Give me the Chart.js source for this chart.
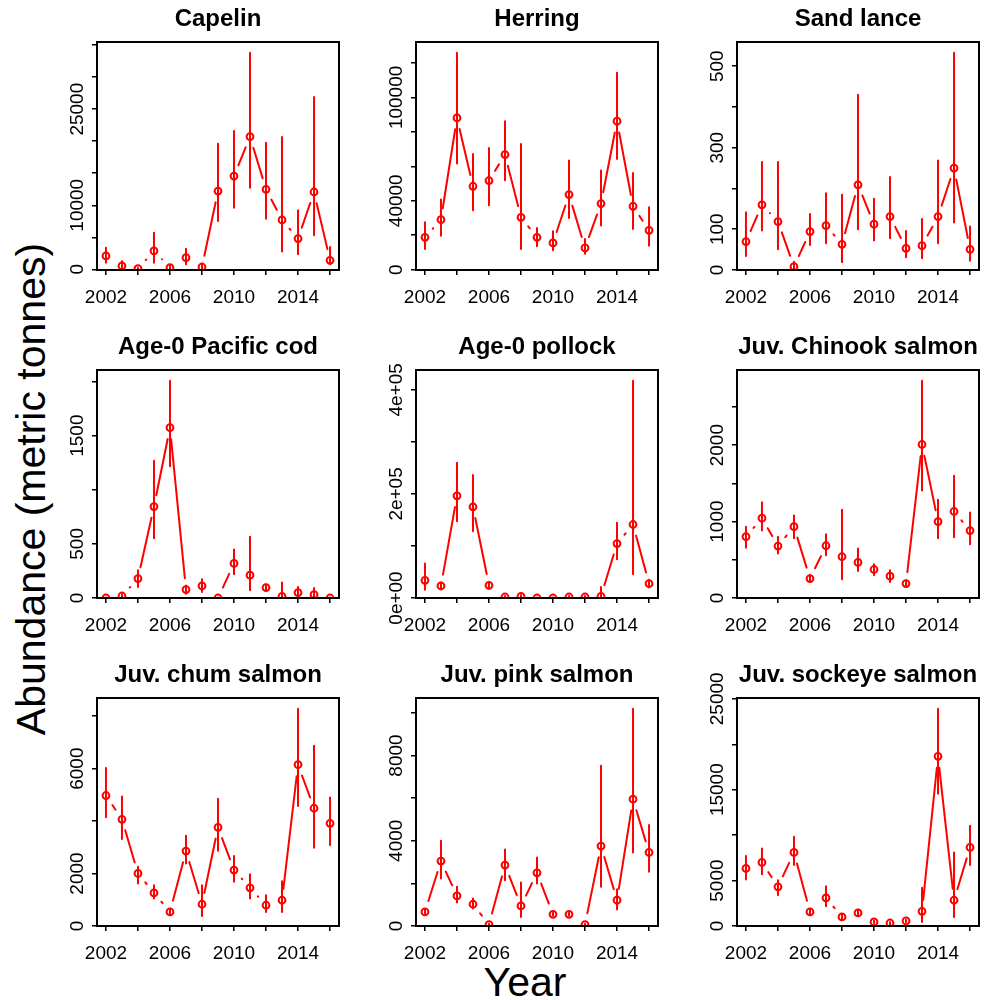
<!DOCTYPE html>
<html>
<head>
<meta charset="utf-8">
<script src="https://cdn.jsdelivr.net/npm/chart.js@4.4.1/dist/chart.umd.min.js"></script>
<style>
  html, body { margin: 0; padding: 0; background: #fff; overflow: hidden; }
  #fig { position: relative; width: 984px; height: 1000px; font-family: "Liberation Sans", Arial, Helvetica, sans-serif; }
  #fig canvas { position: absolute; }
  .outer { position: absolute; font-size: 41px; line-height: 1; white-space: nowrap; color: #000; }
  #ylab { left: 30.8px; top: 489px; transform: translate(-50%, -50%) rotate(-90deg); }
  #xlab { left: 525px; top: 962.3px; transform: translateX(-50%); }
</style>
</head>
<body>
<div id="fig">
  <div class="outer" id="ylab">Abundance (metric tonnes)</div>
  <div class="outer" id="xlab">Year</div>
</div>
<script>
// Survey years and x-axis ticks
const years = [2002, 2003, 2004, 2005, 2006, 2007, 2008, 2009, 2010, 2011, 2012, 2013, 2014, 2015, 2016];
const yearTicks = [2002, 2004, 2006, 2008, 2010, 2012, 2014, 2016];
const yearLabels = [2002, 2006, 2010, 2014];

// Abundance estimates (metric tonnes) with lower / upper interval bounds
const capelin   = [2080, 520, 100, 2860, 260, 1820, 360, 12220, 14560, 20700, 12480, 7700, 4790, 12070, 1400];
const capelinLo = [1040, 0, 0, 1040, 0, 780, 0, 7540, 9620, 12740, 7900, 2760, 2340, 5300, 780];
const capelinHi = [3380, 1300, 250, 5720, 600, 3220, 700, 19610, 21580, 33800, 19760, 20650, 9200, 26890, 3480];

const herring   = [18780, 29040, 88090, 48400, 51690, 66800, 30400, 18780, 15490, 43560, 12580, 38340, 86160, 36790, 22850];
const herringLo = [12000, 19750, 61570, 34460, 37370, 51890, 12000, 13550, 11230, 30010, 9290, 25560, 64280, 23620, 13940];
const herringHi = [27490, 40660, 125850, 67180, 70670, 86150, 72990, 24200, 22270, 63310, 17810, 57500, 114230, 56150, 36210];

const sandLance   = [69.7, 159.8, 118.9, 8.2, 94.3, 109, 63.1, 209, 112.3, 131.1, 53.3, 59.8, 131.1, 250, 50.8];
const sandLanceLo = [34.4, 96.7, 50.8, 0, 61.5, 65.6, 18.9, 100, 72.1, 77.9, 31.1, 28.7, 65.6, 116.4, 23];
const sandLanceHi = [141.8, 264.8, 264.8, 20.5, 137.7, 188.5, 184.4, 430.3, 174.6, 227.9, 95.9, 125.4, 268.9, 532.8, 106.6];

const cod   = [0, 18.6, 179.6, 845, 1573, 77.4, 111, 0, 319, 210.5, 96, 15.5, 49.5, 31, 0];
const codLo = [0, 5, 102, 551, 1217, 40, 56, 0, 220, 71, 70, 0, 9, 0, 0];
const codHi = [5, 35, 257, 1269, 2006, 115, 173, 5, 449, 566.6, 125, 142.4, 102, 93, 5];

const pollock   = [34030, 23110, 196470, 175280, 24400, 1900, 3200, 0, 0, 1900, 1900, 3200, 104650, 141250, 27610];
const pollockLo = [16050, 17000, 147670, 128410, 18000, 0, 0, 0, 0, 0, 0, 0, 74480, 45590, 20000];
const pollockHi = [66130, 30000, 260030, 236280, 31000, 4000, 6000, 1000, 1000, 4000, 4000, 21000, 144460, 417340, 35000];

const chinook   = [803, 1044, 680, 934, 254, 684, 540, 465, 373, 285, 189, 2009, 1000, 1132, 882];
const chinookLo = [658, 882, 583, 781, 215, 561, 246, 355, 298, 210, 150, 1408, 781, 794, 702];
const chinookHi = [934, 1254, 803, 1079, 300, 833, 1154, 649, 443, 364, 230, 2842, 1285, 1601, 1118];

const chum   = [4976, 4070, 2003, 1263, 536, 2858, 829, 3764, 2131, 1455, 791, 982, 6150, 4491, 3917];
const chumLo = [4147, 3317, 1620, 1046, 420, 2386, 383, 2871, 1684, 1046, 536, 536, 4580, 2986, 3088];
const chumHi = [6022, 4938, 2258, 1557, 650, 3445, 1557, 4849, 2667, 1978, 1174, 1710, 8281, 6877, 4900];

const pink   = [659, 3045, 1413, 1020, 63, 2857, 942, 2496, 549, 549, 63, 3752, 1209, 5950, 3454];
const pinkLo = [560, 2229, 1099, 816, 20, 2151, 424, 1994, 480, 480, 20, 1837, 769, 3454, 2543];
const pinkHi = [760, 4003, 1837, 1287, 110, 3595, 2041, 3218, 620, 620, 110, 7520, 1727, 10188, 4741];

const sockeye   = [6333, 6996, 4308, 8100, 1546, 3093, 994, 1436, 442, 331, 552, 1620, 18667, 2835, 8652];
const sockeyeLo = [5118, 5707, 3387, 6701, 1200, 2172, 700, 1100, 300, 200, 400, 442, 14543, 994, 6701];
const sockeyeHi = [7695, 8542, 5044, 9831, 1900, 4381, 1300, 1800, 600, 450, 700, 4197, 23896, 8100, 11046];

// y-axis tick positions and the subset that carries a label
const capelinTicks = [0, 5000, 10000, 15000, 20000, 25000, 30000, 35000];
const capelinLabels = [0, 10000, 25000];
const herringTicks = [0, 20000, 40000, 60000, 80000, 100000, 120000];
const herringLabels = [0, 40000, 100000];
const sandLanceTicks = [0, 100, 200, 300, 400, 500];
const sandLanceLabels = [0, 100, 300, 500];
const codTicks = [0, 500, 1000, 1500, 2000];
const codLabels = [0, 500, 1500];
const pollockTicks = [0, 100000, 200000, 300000, 400000];
const pollockLabels = [0, 200000, 400000];
const chinookTicks = [0, 500, 1000, 1500, 2000, 2500];
const chinookLabels = [0, 1000, 2000];
const chumTicks = [0, 2000, 4000, 6000, 8000];
const chumLabels = [0, 2000, 6000];
const pinkTicks = [0, 2000, 4000, 6000, 8000, 10000];
const pinkLabels = [0, 4000, 8000];
const sockeyeTicks = [0, 5000, 10000, 15000, 20000, 25000];
const sockeyeLabels = [0, 5000, 15000, 25000];

const plain = v => String(v);
const sci = v => v.toExponential(0).replace(/e([+-])(\d)$/, 'e$10$2');

const panels = [
  { title: 'Capelin', v: capelin, lo: capelinLo, hi: capelinHi, ticks: capelinTicks, labels: capelinLabels, fmt: plain, ymin: -110 },
  { title: 'Herring', v: herring, lo: herringLo, hi: herringHi, ticks: herringTicks, labels: herringLabels, fmt: plain, ymin: -200 },
  { title: 'Sand lance', v: sandLance, lo: sandLanceLo, hi: sandLanceHi, ticks: sandLanceTicks, labels: sandLanceLabels, fmt: plain, ymin: 0 },
  { title: 'Age-0 Pacific cod', v: cod, lo: codLo, hi: codHi, ticks: codTicks, labels: codLabels, fmt: plain, ymin: 0 },
  { title: 'Age-0 pollock', v: pollock, lo: pollockLo, hi: pollockHi, ticks: pollockTicks, labels: pollockLabels, fmt: sci, ymin: 0 },
  { title: 'Juv. Chinook salmon', v: chinook, lo: chinookLo, hi: chinookHi, ticks: chinookTicks, labels: chinookLabels, fmt: plain, ymin: 0 },
  { title: 'Juv. chum salmon', v: chum, lo: chumLo, hi: chumHi, ticks: chumTicks, labels: chumLabels, fmt: plain, ymin: 0 },
  { title: 'Juv. pink salmon', v: pink, lo: pinkLo, hi: pinkHi, ticks: pinkTicks, labels: pinkLabels, fmt: plain, ymin: 0 },
  { title: 'Juv. sockeye salmon', v: sockeye, lo: sockeyeLo, hi: sockeyeHi, ticks: sockeyeTicks, labels: sockeyeLabels, fmt: plain, ymin: 0 }
];

// Grid geometry (plot box of each panel)
const FONT = '"Liberation Sans", Arial, Helvetica, sans-serif';
const colLeft = [97, 416, 737];
const rowTop = [42, 370, 698];
const boxW = 245, boxH = 228;
const padL = 90, padT = 42, padR = 3, padB = 50;
const RED = '#ff0000';
const GAP = 11.5; // gap left around each point by the connecting lines

// Draws interval bars, broken connecting lines, the plot box and rotated y labels
function panelPlugin(p) {
  return {
    id: 'panelDecor',
    beforeDatasetsDraw(chart) {
      const { ctx, chartArea: a, scales: { x, y } } = chart;
      ctx.save();
      ctx.beginPath();
      ctx.rect(a.left, a.top, a.right - a.left, a.bottom - a.top);
      ctx.clip();
      ctx.strokeStyle = RED;
      ctx.lineWidth = 2;
      ctx.lineCap = 'round';
      ctx.beginPath();
      years.forEach((yr, i) => {
        const px = x.getPixelForValue(yr);
        ctx.moveTo(px, y.getPixelForValue(p.lo[i]));
        ctx.lineTo(px, y.getPixelForValue(p.hi[i]));
      });
      ctx.stroke();
      ctx.beginPath();
      for (let i = 0; i < years.length - 1; i++) {
        const x1 = x.getPixelForValue(years[i]), y1 = y.getPixelForValue(p.v[i]);
        const x2 = x.getPixelForValue(years[i + 1]), y2 = y.getPixelForValue(p.v[i + 1]);
        const dx = x2 - x1, dy = y2 - y1, d = Math.hypot(dx, dy);
        if (d > 2 * GAP) {
          const f = GAP / d;
          ctx.moveTo(x1 + dx * f, y1 + dy * f);
          ctx.lineTo(x2 - dx * f, y2 - dy * f);
        }
      }
      ctx.stroke();
      ctx.restore();
    },
    afterDraw(chart) {
      const { ctx, chartArea: a, scales: { y } } = chart;
      ctx.save();
      ctx.strokeStyle = '#000';
      ctx.lineWidth = 2;
      ctx.strokeRect(a.left, a.top, a.right - a.left, a.bottom - a.top);
      ctx.fillStyle = '#000';
      ctx.font = '19px ' + FONT;
      ctx.textAlign = 'center';
      ctx.textBaseline = 'alphabetic';
      p.labels.forEach(v => {
        ctx.save();
        ctx.translate(a.left - 14, y.getPixelForValue(v));
        ctx.rotate(-Math.PI / 2);
        ctx.fillText(p.fmt(v), 0, 0);
        ctx.restore();
      });
      ctx.restore();
    }
  };
}

const fig = document.getElementById('fig');
panels.forEach((p, k) => {
  const col = k % 3, row = Math.floor(k / 3);
  const canvas = document.createElement('canvas');
  const W = padL + boxW + padR, H = padT + boxH + padB;
  canvas.width = W;
  canvas.height = H;
  canvas.style.left = (colLeft[col] - padL) + 'px';
  canvas.style.top = (rowTop[row] - padT) + 'px';
  canvas.style.width = W + 'px';
  canvas.style.height = H + 'px';
  fig.appendChild(canvas);

  const ymax = 1.05 * Math.max(...p.hi);

  new Chart(canvas, {
    type: 'scatter',
    data: {
      datasets: [{
        data: years.map((yr, i) => ({ x: yr, y: p.v[i] })),
        showLine: false,
        pointRadius: 3.4,
        pointBorderWidth: 2,
        pointBorderColor: RED,
        pointBackgroundColor: 'rgba(0,0,0,0)',
        clip: 0
      }]
    },
    options: {
      responsive: false,
      animation: false,
      devicePixelRatio: 1,
      events: [],
      layout: { padding: { left: 0, right: padR, top: 0, bottom: 0 } },
      plugins: {
        legend: { display: false },
        tooltip: { enabled: false },
        title: {
          display: true,
          text: p.title,
          fullSize: false,
          color: '#000',
          font: { family: FONT, size: 24, weight: 'bold', lineHeight: 1.2 },
          padding: { top: 5.3, bottom: 7.9 }
        }
      },
      scales: {
        x: {
          type: 'linear',
          min: 2001.44,
          max: 2016.56,
          afterBuildTicks: s => { s.ticks = yearTicks.map(v => ({ value: v })); },
          afterFit: s => { s.height = padB; },
          ticks: {
            autoSkip: false,
            minRotation: 0,
            maxRotation: 0,
            padding: 13,
            color: '#000',
            font: { family: FONT, size: 19, lineHeight: 1 },
            callback: v => (yearLabels.includes(v) ? String(v) : '')
          },
          grid: { drawOnChartArea: false, drawTicks: true, tickLength: 5, color: '#000', lineWidth: 1.5 },
          border: { display: false }
        },
        y: {
          type: 'linear',
          min: p.ymin,
          max: ymax,
          afterBuildTicks: s => { s.ticks = p.ticks.map(v => ({ value: v })); },
          afterFit: s => { s.width = padL; },
          ticks: { display: false },
          grid: { drawOnChartArea: false, drawTicks: true, tickLength: 5, color: '#000', lineWidth: 1.5 },
          border: { display: false }
        }
      }
    },
    plugins: [panelPlugin(p)]
  });
});
</script>
</body>
</html>
